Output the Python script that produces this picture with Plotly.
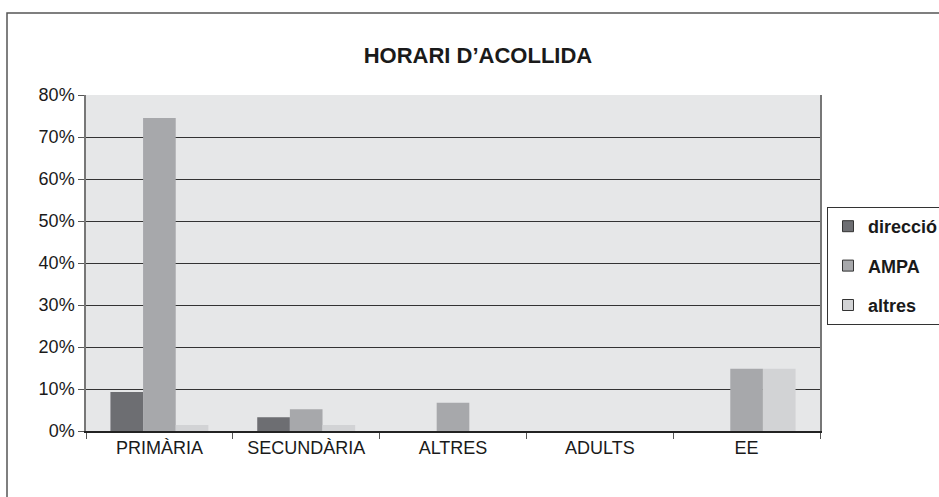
import plotly.graph_objects as go

categories = ["PRIMÀRIA", "SECUNDÀRIA", "ALTRES", "ADULTS", "EE"]
direccio = [0.093, 0.033, 0.0, 0.0, 0.0]
ampa = [0.745, 0.052, 0.067, 0.0, 0.148]
altres = [0.014, 0.014, 0.0, 0.0, 0.148]

series = [
    ("direcció", direccio, "#6d6e72"),
    ("AMPA", ampa, "#a7a8ab"),
    ("altres", altres, "#d2d3d5"),
]

FONT = "Liberation Sans, Arial, sans-serif"

fig = go.Figure()
for name, vals, color in series:
    fig.add_trace(
        go.Bar(
            x=categories,
            y=vals,
            name=name,
            showlegend=False,
            marker=dict(color=color, line=dict(width=0)),
        )
    )

# legend-only entries so the swatches get a dark outline like the original
for name, vals, color in series:
    fig.add_trace(
        go.Scatter(
            x=[None], y=[None],
            mode="markers",
            name=name,
            legendgroup=name,
            marker=dict(symbol="square", size=11, color=color,
                        line=dict(color="#333333", width=1)),
        )
    )

# outer chart frame (right/bottom run off the canvas as in the scan)
fig.add_shape(
    type="rect", xref="paper", yref="paper",
    x0=(7 - 86) / 734, x1=(960 - 86) / 734,
    y0=(431 - 520) / 336, y1=(431 - 13) / 336,
    line=dict(color="#555555", width=1.5),
    fillcolor="rgba(0,0,0,0)",
    layer="below",
)

fig.update_layout(
    width=939, height=497,
    margin=dict(l=86, r=119, t=95, b=66, autoexpand=False),
    paper_bgcolor="white",
    plot_bgcolor="#e6e7e8",
    barmode="group",
    bargap=0.333,
    bargroupgap=0,
    font=dict(family=FONT, size=18, color="#1a1a1a"),
    title=dict(
        text="<b>HORARI D’ACOLLIDA</b>",
        x=0.509, xanchor="center",
        y=1 - 55 / 497, yanchor="middle",
        font=dict(size=22, color="#1a1a1a"),
    ),
    showlegend=True,
    legend=dict(
        x=(827 - 86) / 734, xanchor="left",
        y=(431 - 207) / 336, yanchor="top",
        bordercolor="#333333", borderwidth=1,
        bgcolor="white",
        font=dict(size=18, color="#1a1a1a", weight="bold"),
        tracegroupgap=13,
        traceorder="grouped",
    ),
)

fig.update_xaxes(
    type="category",
    showline=True, linecolor="#222222", linewidth=1.5,
    ticks="outside", tickson="boundaries", ticklen=6, tickcolor="#555555",
    showgrid=False,
    tickfont=dict(size=18),
)
fig.update_yaxes(
    range=[0, 0.8], dtick=0.1, tickformat=".0%",
    showline=True, linecolor="#777777", linewidth=1.5, mirror=True,
    ticks="outside", ticklen=6, tickcolor="#555555",
    showgrid=True, gridcolor="#333333", gridwidth=1,
    zeroline=False,
    tickfont=dict(size=18),
)

fig.write_html(
    "out.html",
    config={"displayModeBar": False},
    post_script="document.body.style.margin='0';",
)
